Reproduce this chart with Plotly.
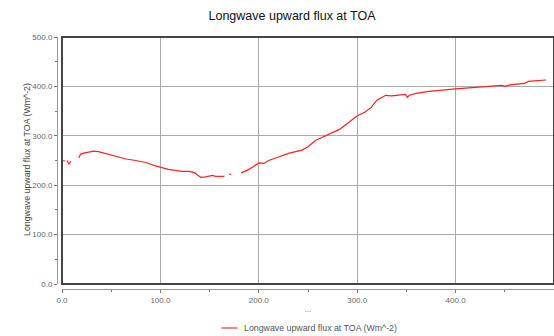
import plotly.graph_objects as go

x_vals = [0, 3, None, 5, 7, 9, None,
          17, 19, 22, 25, 28, 32, 37, 45, 55, 65, 75, 85, 95, 100, 108, 115, 122, 130, 135, 138, 141,
          146, 150, 153, 156, 160, 165, None, 170, 172, None,
          182, 188, 194, 200, 205, 210, 220, 231, 244, 250, 258, 270, 282, 290, 299, 308, 314, 320,
          329, 335, 343, 349, 351, 353, 360, 373, 400, 420, 440, 447, 450, 455, 470, 474, 480, 492]
y_vals = [250, 249, None, 250, 243, 249, None,
          255, 263, 265, 266, 268, 269, 268, 264, 259, 253, 250, 246, 239, 236, 232, 230, 228, 228, 225, 220, 216,
          217, 218, 220, 218, 218, 218, None, 222, 222, None,
          225, 230, 237, 245, 244, 250, 257, 265, 271, 278, 291, 302, 313, 325, 339, 348, 357, 372,
          382, 381, 383, 384, 378, 382, 386, 390, 395, 398, 400, 402, 400, 403, 406, 410, 411, 413]

series_name = "Longwave upward flux at TOA (Wm^-2)"
title_text = "Longwave upward flux at TOA"
x_title = "..."
y_title = "Longwave upward flux at TOA (Wm^-2)"

FONT = "Liberation Sans, Arial, sans-serif"
W, H = 554, 336
ML, MR, MT, MB = 57, 0, 37, 47
PW, PH = W - ML - MR, H - MT - MB   # paper area


def px_to_paper(px, py):
    return (px - ML) / PW, (H - MB - py) / PH


fig = go.Figure()
fig.add_trace(go.Scatter(x=x_vals, y=y_vals, mode="lines", name=series_name,
                         line=dict(color="#ff2020", width=1.2), connectgaps=False,
                         showlegend=False))

tickfont = dict(family=FONT, size=8, color="#666666")
axis_common = dict(range=[0, 500], anchor="free", position=0,
                   tickvals=[0, 100, 200, 300, 400, 500], tickformat=".1f",
                   showgrid=True, gridcolor="#aaaaaa", gridwidth=1,
                   showline=True, linecolor="#999999", linewidth=1,
                   ticks="outside", ticklen=3, tickcolor="#777777",
                   minor=dict(dtick=50, tick0=0, ticks="outside", ticklen=2,
                              tickcolor="#777777", showgrid=False),
                   tickfont=tickfont, zeroline=False, automargin=False)

fig.update_layout(
    width=W, height=H,
    margin=dict(l=ML, r=MR, t=MT, b=MB),
    paper_bgcolor="white", plot_bgcolor="white",
    title=dict(text=title_text, x=292 / W, xanchor="center", xref="container",
               y=1 - 16 / H, yanchor="middle", yref="container",
               font=dict(family=FONT, size=12.5, color="#111111")),
    font=dict(family=FONT),
    showlegend=False,
    xaxis=dict(domain=[5 / PW, 1],
               title=dict(text=x_title, font=dict(size=8, color="#666666"), standoff=2),
               **axis_common),
    yaxis=dict(domain=[5 / PH, 1], **axis_common),
)

# y axis title as rotated text
ytx, yty = px_to_paper(27, 160)
fig.add_annotation(text=y_title, xref="paper", yref="paper", x=ytx, y=yty,
                   xanchor="center", yanchor="middle", textangle=-90, showarrow=False,
                   font=dict(family=FONT, size=8.8, color="#444444"))

# plot box border
fig.add_shape(type="rect", xref="x domain", yref="y domain", x0=0, x1=1, y0=0, y1=1,
              line=dict(color="#444444", width=2), layer="above")

# manual legend
lx0, ly = px_to_paper(221.5, 328)
lx1, _ = px_to_paper(237.5, 328)
tx, _ = px_to_paper(241.5, 328)
fig.add_shape(type="line", xref="paper", yref="paper", x0=lx0, x1=lx1, y0=ly, y1=ly,
              line=dict(color="#ff8080", width=2))
fig.add_annotation(text=series_name, xref="paper", yref="paper", x=tx, y=ly,
                   xanchor="left", yanchor="middle", showarrow=False,
                   font=dict(family=FONT, size=8.8, color="#555555"))

fig.write_html("out.html")
